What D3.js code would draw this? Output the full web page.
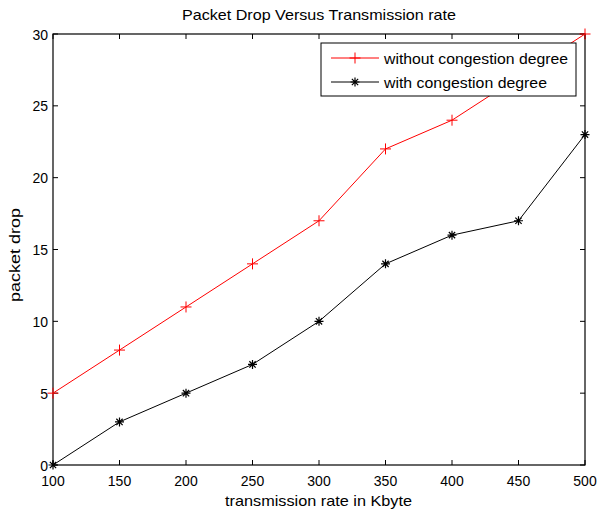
<!DOCTYPE html>
<html><head><meta charset="utf-8">
<script src="https://cdn.jsdelivr.net/npm/d3@7"></script>
<style>body{margin:0;background:#fff}svg{display:block}text{font-family:Arial,"Liberation Sans",Helvetica,sans-serif;fill:#000}</style>
</head><body><svg id="c" width="598" height="512"></svg>
<script>
const xValues = [100,150,200,250,300,350,400,450,500];
const withoutCongestion = [5,8,11,14,17,22,24,27,30];
const withCongestion = [0,3,5,7,10,14,16,17,23];
const xTicks = [100,150,200,250,300,350,400,450,500];
const yTicks = [0,5,10,15,20,25,30];
const seriesNames = ["without congestion degree","with congestion degree"];

const svg = d3.select("#c");
const L=53,R=585,T=34,B=465;
const x = d3.scaleLinear().domain([100,500]).range([L,R]);
const y = d3.scaleLinear().domain([0,30]).range([B,T]);

svg.append("rect").attr("width",598).attr("height",512).attr("fill","#fff");

const g = svg.append("g");
xTicks.forEach(v=>{
  g.append("line").attr("x1",x(v)).attr("x2",x(v)).attr("y1",B).attr("y2",B-5).attr("stroke","#000");
  g.append("line").attr("x1",x(v)).attr("x2",x(v)).attr("y1",T).attr("y2",T+5).attr("stroke","#000");
  g.append("text").attr("x",x(v)).attr("y",B+21).attr("text-anchor","middle").attr("font-size",14).text(v);
});
yTicks.forEach(v=>{
  g.append("line").attr("x1",L).attr("x2",L+5).attr("y1",y(v)).attr("y2",y(v)).attr("stroke","#000");
  g.append("line").attr("x1",R).attr("x2",R-5).attr("y1",y(v)).attr("y2",y(v)).attr("stroke","#000");
  g.append("text").attr("x",L-5).attr("y",y(v)+5.5).attr("text-anchor","end").attr("font-size",14).text(v);
});
svg.append("rect").attr("x",L).attr("y",T).attr("width",R-L).attr("height",B-T).attr("fill","none").attr("stroke","#000").attr("stroke-width",1.2);

const line = d3.line().x((d,i)=>x(xValues[i])).y(d=>y(d));
function plusPath(s){return `M${-s},0H${s}M0,${-s}V${s}`;}
function starPath(s){const d=s*0.7;return `M${-s},0H${s}M0,${-s}V${s}M${-d},${-d}L${d},${d}M${-d},${d}L${d},${-d}`;}

svg.append("path").datum(withoutCongestion).attr("d",line).attr("fill","none").attr("stroke","#ff0000").attr("stroke-width",1);
svg.selectAll(".pr").data(withoutCongestion).enter().append("path").attr("transform",(d,i)=>`translate(${x(xValues[i])},${y(d)})`).attr("d",plusPath(5.5)).attr("stroke","#ff0000").attr("stroke-width",1).attr("fill","none");

svg.append("path").datum(withCongestion).attr("d",line).attr("fill","none").attr("stroke","#000").attr("stroke-width",1);
svg.selectAll(".pb").data(withCongestion).enter().append("path").attr("transform",(d,i)=>`translate(${x(xValues[i])},${y(d)})`).attr("d",starPath(4.5)).attr("stroke","#000").attr("stroke-width",1.2).attr("fill","none");

// legend
const lg = svg.append("g");
lg.append("rect").attr("x",321).attr("y",43).attr("width",255).attr("height",53).attr("fill","#fff").attr("stroke","#000").attr("stroke-width",1);
const cols=["#ff0000","#000"];
const legW=[184,163];
seriesNames.forEach((n,i)=>{
  const yy = 58 + i*24;
  lg.append("line").attr("x1",331).attr("x2",379).attr("y1",yy).attr("y2",yy).attr("stroke",cols[i]);
  lg.append("path").attr("transform",`translate(355,${yy})`).attr("d",i===0?plusPath(5.5):starPath(4.5)).attr("stroke",cols[i]).attr("stroke-width",i===0?1:1.2).attr("fill","none");
  lg.append("text").attr("x",384).attr("y",yy+5.5).attr("font-size",15).attr("textLength",legW[i]).attr("lengthAdjust","spacingAndGlyphs").text(n);
});

svg.append("text").attr("x",182).attr("y",20).attr("font-size",15).attr("textLength",274).attr("lengthAdjust","spacingAndGlyphs").text("Packet Drop Versus Transmission rate");
svg.append("text").attr("x",225).attr("y",506).attr("font-size",15).attr("textLength",187).attr("lengthAdjust","spacingAndGlyphs").text("transmission rate in Kbyte");
svg.append("text").attr("transform",`translate(19.5,302) rotate(-90)`).attr("font-size",14).attr("textLength",94).attr("lengthAdjust","spacingAndGlyphs").text("packet drop");
</script></body></html>
